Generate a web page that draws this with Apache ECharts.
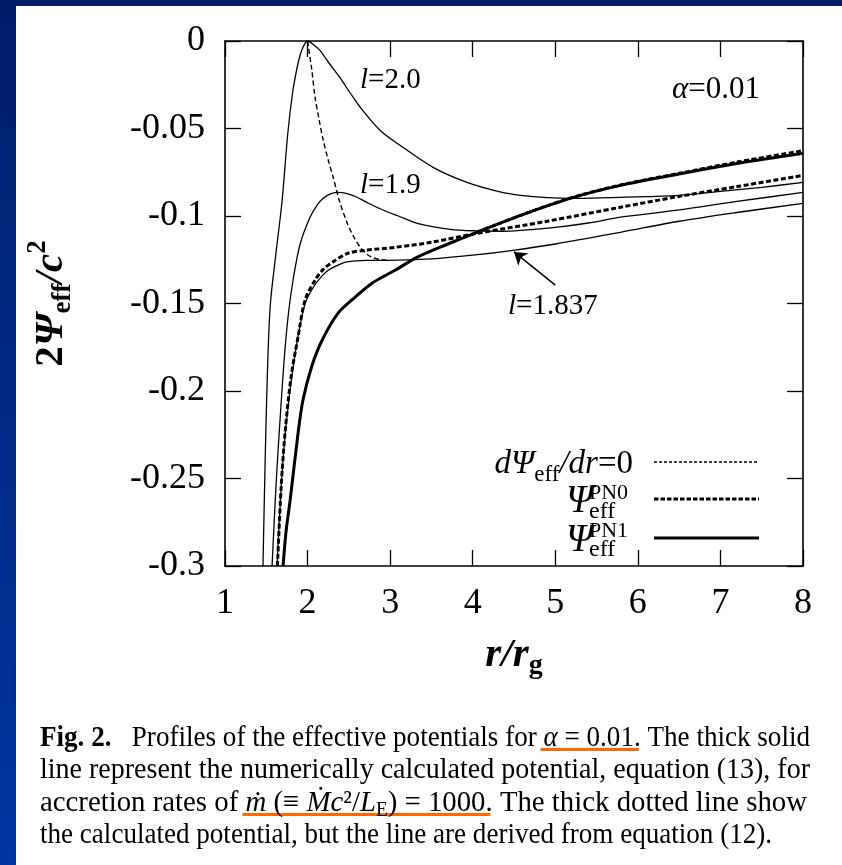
<!DOCTYPE html>
<html>
<head>
<meta charset="utf-8">
<script src="https://cdn.jsdelivr.net/npm/echarts@6/dist/echarts.min.js"></script>
<style>
  html, body { margin: 0; padding: 0; }
  body { width: 842px; height: 865px; position: relative; overflow: hidden;
         background: linear-gradient(180deg, #001e6a 0%, #0036a3 100%); }
  #paper { position: absolute; left: 16px; top: 6px; width: 826px; height: 859px; background: #fff; }
  #chart { position: absolute; left: 0; top: 0; width: 842px; height: 865px; }
</style>
</head>
<body>
<div id="paper"></div>
<div id="chart"></div>
<script>
var FONT = '"Liberation Serif", "Times New Roman", serif';

// r / r_g and 2 Psi_eff / c^2
var l20R = [1.46, 1.49, 1.52, 1.55, 1.61, 1.69, 1.76, 1.82, 1.87, 1.91, 1.95, 2.0, 2.07, 2.15, 2.25, 2.39, 2.52, 2.64, 2.88, 3.12, 3.52, 3.93, 4.33, 4.58, 4.9, 5.27, 5.79, 6.5, 7.0, 7.5, 8.0];
var l20V = [-0.300, -0.232, -0.180, -0.150, -0.124, -0.092, -0.053, -0.029, -0.016, -0.008, -0.003, 0.000, -0.002, -0.0054, -0.012, -0.0208, -0.030, -0.038, -0.0511, -0.0596, -0.0722, -0.0808, -0.0862, -0.0882, -0.0895, -0.0899, -0.0893, -0.0882, -0.0859, -0.0836, -0.0808];

var l19R = [1.57, 1.62, 1.67, 1.72, 1.77, 1.83, 1.91, 2.03, 2.12, 2.19, 2.27, 2.36, 2.48, 2.60, 2.75, 2.92, 3.10, 3.33, 3.73, 4.05, 4.35, 4.58, 5.0, 5.4, 5.79, 6.48, 7.2, 8.0];
var l19V = [-0.300, -0.252, -0.214, -0.180, -0.155, -0.135, -0.116, -0.1007, -0.0935, -0.0899, -0.0875, -0.0865, -0.0872, -0.0893, -0.0930, -0.0967, -0.1000, -0.1042, -0.1076, -0.1085, -0.1087, -0.1082, -0.1065, -0.1040, -0.1007, -0.0967, -0.0917, -0.0865];

var l1837R = [1.63, 1.68, 1.73, 1.80, 1.88, 1.97, 2.07, 2.17, 2.25, 2.35, 2.46, 2.58, 2.70, 2.96, 3.5, 4.0, 4.49, 5.0, 5.79, 6.5, 7.2, 8.0];
var l1837V = [-0.300, -0.255, -0.224, -0.195, -0.170, -0.150, -0.1407, -0.1345, -0.1310, -0.1285, -0.1264, -0.1257, -0.1253, -0.1253, -0.1245, -0.1224, -0.1196, -0.1160, -0.1093, -0.1030, -0.0980, -0.0928];

var extremaR = [2.0, 2.05, 2.09, 2.14, 2.19, 2.25, 2.31, 2.39, 2.48, 2.56, 2.64, 2.71, 2.78, 2.87, 2.96];
var extremaV = [0.0, -0.016, -0.032, -0.045, -0.0568, -0.068, -0.0779, -0.092, -0.104, -0.112, -0.118, -0.1215, -0.1236, -0.1248, -0.1253];

var pn0R = [1.635, 1.68, 1.727, 1.80, 1.885, 1.97, 2.09, 2.19, 2.30, 2.49, 2.70, 3.06, 3.5, 4.055, 4.9, 5.79, 6.5, 7.2, 8.0];
var pn0V = [-0.300, -0.255, -0.224, -0.192, -0.169, -0.148, -0.1367, -0.1305, -0.1264, -0.1213, -0.1196, -0.1179, -0.1150, -0.1099, -0.1030, -0.0950, -0.0888, -0.0832, -0.0768];

var pn0bR = [4.05, 4.58, 5.18, 5.79, 6.5, 7.2, 8.0];
var pn0bV = [-0.1093, -0.0996, -0.0898, -0.0823, -0.0756, -0.0692, -0.0627];

var pn1R = [1.703, 1.74, 1.79, 1.885, 1.945, 2.05, 2.176, 2.37, 2.576, 2.78, 3.06, 3.33, 3.7, 4.05, 4.58, 5.18, 5.79, 6.5, 7.2, 8.0];
var pn1V = [-0.300, -0.280, -0.262, -0.224, -0.205, -0.186, -0.171, -0.1555, -0.1464, -0.1384, -0.1310, -0.1235, -0.1160, -0.1093, -0.0996, -0.0899, -0.0825, -0.0760, -0.0700, -0.0642];

// arrow to the l=1.837 curve (tail, head)
var arrowTail = [5.0, -0.1395];
var arrowHead = [4.5, -0.1205];

var xTicks = { min: 1, max: 8, step: 1 };
var yTicks = { min: -0.3, max: 0, step: 0.05 };

function zip(r, v) {
  return r.map(function (x, i) { return [x, v[i]]; });
}

function curve(name, r, v, width, dash) {
  return {
    name: name,
    type: 'line',
    data: zip(r, v),
    showSymbol: false,
    symbol: 'none',
    smooth: 0.3,
    clip: true,
    silent: true,
    lineStyle: { color: '#000', width: width, type: dash || 'solid' }
  };
}

function frameAxis(pos, range, labels) {
  return {
    type: 'value',
    position: pos,
    min: range.min,
    max: range.max,
    interval: range.step,
    axisLine: { show: true, onZero: false, lineStyle: { color: '#000', width: 1.6 } },
    axisTick: { show: true, inside: true, length: 16, lineStyle: { color: '#000', width: 1.3 } },
    splitLine: { show: false },
    axisLabel: labels ? {
      show: true, color: '#000', fontFamily: FONT, fontSize: 36, margin: 20,
      formatter: function (val) { return val === 0 ? '0' : String(+val.toFixed(2)); }
    } : { show: false }
  };
}

var xBottom = frameAxis('bottom', xTicks, true);
xBottom.name = '{gi|r/r}{sub|g}';
xBottom.nameLocation = 'middle';
xBottom.nameGap = 64;
xBottom.nameTextStyle = {
  rich: {
    gi: { fontFamily: FONT, fontSize: 41, fontStyle: 'italic', fontWeight: 'bold', color: '#000', lineHeight: 50 },
    sub: { fontFamily: FONT, fontSize: 28, fontWeight: 'bold', color: '#000', lineHeight: 28, verticalAlign: 'bottom' }
  }
};

var yLeft = frameAxis('left', yTicks, true);
yLeft.name = '{n|2}{gi|Ψ}{sub|eff}{gi|/c}{sup|2}';
yLeft.nameLocation = 'middle';
yLeft.nameRotate = 90;
yLeft.nameGap = 148;
yLeft.nameTextStyle = {
  rich: {
    n: { fontFamily: FONT, fontSize: 41, fontWeight: 'bold', color: '#000', lineHeight: 52 },
    gi: { fontFamily: FONT, fontSize: 41, fontStyle: 'italic', fontWeight: 'bold', color: '#000', lineHeight: 52 },
    sub: { fontFamily: FONT, fontSize: 27, fontWeight: 'bold', color: '#000', lineHeight: 27, verticalAlign: 'bottom' },
    sup: { fontFamily: FONT, fontSize: 27, fontWeight: 'bold', color: '#000', lineHeight: 27, verticalAlign: 'top' }
  }
};

var l1837 = curve('l=1.837', l1837R, l1837V, 1.3);
l1837.markLine = {
  silent: true,
  animation: false,
  symbol: ['none', 'arrow'],
  symbolSize: 12,
  label: { show: false },
  lineStyle: { color: '#000', width: 1.4, type: 'solid' },
  data: [[{ coord: arrowTail }, { coord: arrowHead }]]
};

var series = [
  curve('l=2.0', l20R, l20V, 1.3),
  curve('l=1.9', l19R, l19V, 1.3),
  l1837,
  curve('dPsi/dr=0', extremaR, extremaV, 1.4, [5, 3]),
  curve('PN1', pn1R, pn1V, 3),
  curve('PN0', pn0R, pn0V, 3, [5, 2.5]),
  curve('PN0 b', pn0bR, pn0bV, 3, [5, 2.5])
];

// ---------- texts drawn as graphic elements ----------
function rich(size) {
  return {
    n: { fontFamily: FONT, fontSize: size, fill: '#000', lineHeight: size + 12 },
    i: { fontFamily: FONT, fontSize: size, fontStyle: 'italic', fill: '#000', lineHeight: size + 12 },
    b: { fontFamily: FONT, fontSize: size, fontWeight: 'bold', fill: '#000', lineHeight: size + 12 },
    s: { fontFamily: FONT, fontSize: Math.round(size * 0.7), fill: '#000', lineHeight: Math.round(size * 0.7), verticalAlign: 'bottom' }
  };
}

function note(x, y, text, size, align) {
  return {
    type: 'text', x: x, y: y, z: 10,
    style: {
      text: text, fill: '#000', fontFamily: FONT, fontSize: size,
      textAlign: align || 'left', textVerticalAlign: 'middle', rich: rich(size)
    }
  };
}

var graphics = [
  note(360, 80, '{i|l}{n|=2.0}', 29),
  note(360, 185, '{i|l}{n|=1.9}', 29),
  note(508, 306, '{i|l}{n|=1.837}', 29),
  note(672, 90, '{i|α}{n|=0.01}', 31),

  // legend
  note(633, 464, '{i|dΨ}{s|eff}{i|/dr}{n|=0}', 33, 'right'),
  note(566, 502, '{i|Ψ}', 39),
  note(589, 493, '{n|PN0}', 22),
  note(589, 512, '{n|eff}', 24),
  note(566, 541, '{i|Ψ}', 39),
  note(589, 531, '{n|PN1}', 22),
  note(589, 550, '{n|eff}', 24),
  { type: 'line', z: 10, shape: { x1: 654, y1: 462, x2: 759, y2: 462 },
    style: { stroke: '#000', lineWidth: 1.3, lineDash: [3, 2] } },
  { type: 'line', z: 10, shape: { x1: 654, y1: 499, x2: 759, y2: 499 },
    style: { stroke: '#000', lineWidth: 3, lineDash: [4.5, 2] } },
  { type: 'line', z: 10, shape: { x1: 654, y1: 538, x2: 759, y2: 538 },
    style: { stroke: '#000', lineWidth: 3 } }
];

// ---------- caption ----------
var CAP = 30;
var capStyles = {
  n: { fontSize: CAP },
  b: { fontSize: CAP, fontWeight: 'bold' },
  i: { fontSize: CAP, fontStyle: 'italic' },
  s: { fontSize: 20 }
};
// [style, text, underlined]
var captionLines = [
  [['b', 'Fig. 2.'], ['n', '   Profiles of the effective potentials for'], ['n', ' '],
   ['i', 'α', 1], ['n', ' = 0.01', 1], ['n', '. The thick solid']],
  [['n', 'line represent the numerically calculated potential, equation (13), for']],
  [['n', 'accretion rates of '], ['i', 'ṁ', 1], ['n', ' (≡ ', 1], ['i', 'Ṁc', 1], ['n', '²/', 1],
   ['i', 'L', 1], ['s', 'E', 1], ['n', ') = 1000', 1], ['n', '. The thick dotted line show']],
  [['n', 'the calculated potential, but the line are derived from equation (12).']]
];
var captionY = [738, 770, 803, 835];
var captionRight = [810, 810, 807, 772];
var captionLeft = 40;

var ctx = document.createElement('canvas').getContext('2d');
function segWidth(seg) {
  var st = capStyles[seg[0]];
  ctx.font = (st.fontStyle || 'normal') + ' normal ' + (st.fontWeight || 'normal') + ' ' + st.fontSize + 'px ' + FONT;
  return ctx.measureText(seg[1]).width;
}

captionLines.forEach(function (segs, k) {
  var widths = segs.map(segWidth);
  var total = widths.reduce(function (a, b) { return a + b; }, 0);
  var sx = (captionRight[k] - captionLeft) / total;
  var capRich = {};
  Object.keys(capStyles).forEach(function (key) {
    var st = capStyles[key];
    capRich[key] = {
      fontFamily: FONT, fontSize: st.fontSize, fontWeight: st.fontWeight || 'normal',
      fontStyle: st.fontStyle || 'normal', fill: '#000',
      lineHeight: key === 's' ? 20 : 36, verticalAlign: key === 's' ? 'bottom' : 'middle'
    };
  });
  graphics.push({
    type: 'text', x: captionLeft, y: captionY[k], scaleX: sx, z: 10,
    style: {
      text: segs.map(function (s) { return '{' + s[0] + '|' + s[1] + '}'; }).join(''),
      fontFamily: FONT, fontSize: CAP, fill: '#000', textVerticalAlign: 'middle', rich: capRich
    }
  });
  // orange underline
  var pos = 0, u0 = null, u1 = null;
  segs.forEach(function (s, i) {
    if (s[2]) {
      if (u0 === null) u0 = pos;
      u1 = pos + widths[i];
    }
    pos += widths[i];
  });
  if (u0 !== null) {
    graphics.push({
      type: 'rect', z: 9,
      shape: { x: captionLeft + u0 * sx - 3, y: captionY[k] + 10, width: (u1 - u0) * sx + 8, height: 3 },
      style: { fill: '#ff6a00' }
    });
  }
});

var chart = echarts.init(document.getElementById('chart'));
chart.setOption({
  animation: false,
  backgroundColor: 'transparent',
  grid: { left: 225, top: 41, width: 578, height: 525, containLabel: false },
  xAxis: [xBottom, frameAxis('top', xTicks, false)],
  yAxis: [yLeft, frameAxis('right', yTicks, false)],
  series: series,
  graphic: graphics
});
</script>
</body>
</html>
